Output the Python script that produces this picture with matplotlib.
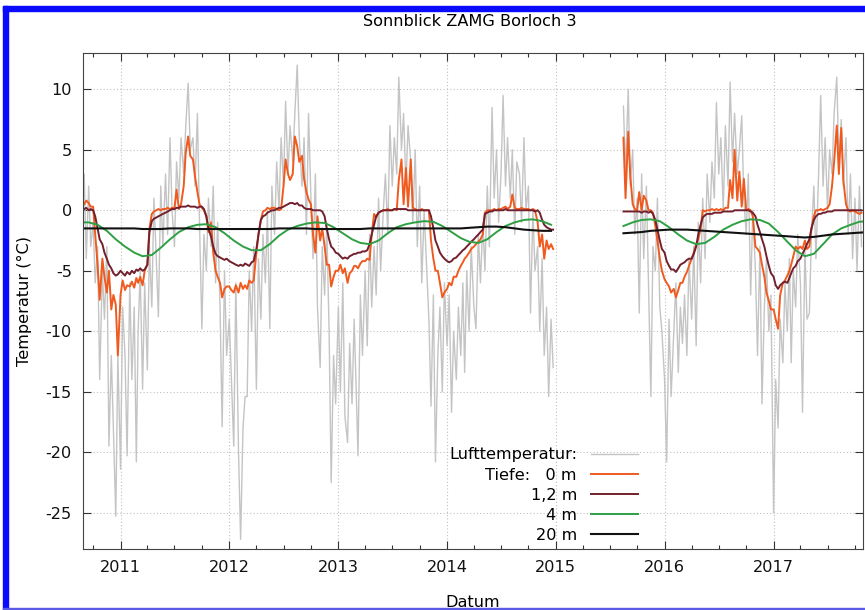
import numpy as np
import pandas as pd
import matplotlib
matplotlib.use("Agg")
import matplotlib.pyplot as plt
import matplotlib.dates as mdates
from matplotlib.patches import Rectangle

# Sonnblick borehole 3: air temperature and ground temperature at four depths.
# Weekly series use days 1, 8, 16, 23 of each month; deep sensors are monthly (16th).

SEG1_START = "2010-08-23"
SEG2_START = "2015-08-16"

# --- air temperature, weekly, 2010-08-23 .. 2014-12-23
air_1 = [
    1,
    3, -4, 2, -3,   -1, -6, -3, -14,   -5, -9, -3, -19.5,   -12, -18, -25.3, -12,
    # 2011
    -21.4, -8, -12, -20.3,   -6, -14, -8, -20.8,   -10, -5, -14.8, -6,   -13.2, -3, -8, 1,
    -4, -8.8, 2, -3,   3, -2, 6, 0,   -3, 4, 1, 6,   3, 7, 10.5, 5,
    6, 2, 8, -1,   -9.8, -2, -5, 1,   -3, 2, -6, -1,   -8, -17.9, -5, -12,
    # 2012
    -9, -14, -19.5, -6,   -20, -27.2, -18, -15.4,   -15.4, -5, -10, -3,   -14.8, -4, -9, -2,
    -6, 0, -9.8, 2,   -2, 4, 0, 6,   2, 9, 3, 7,   4, 8, 12, 6,
    2, 6, -2, 8,   1, -4, 3, -8,   -13, -3, -7, -1,   -10, -22.5, -12, -16,
    # 2013
    -8, -15, -6, -17,   -19.2, -11, -16, -9,   -14, -20.3, -7, -12,   -5, -11.2, -2, -8,
    -3, -7, 1, -5,   0, 3, -2, 7,   2, 6, 3, 11,   5, 8, 2, 7,
    4, -1, 5, -3,   2, -6, 0, -4,   -9, -16.2, -7, -20.8,   -12, -8, -15, -6,
    # 2014
    -11.2, -7, -16.7, -10,   -14, -8, -12, -6,   -13.4, -5, -10, -3,   -8, -9.8, -2, -6,
    -1, -5, 2, -3,   8.5, 1, 5, -1,   3, 9.5, 2, 6,   1, 5, -2, 4,
    3, -1, 6, 0,   2, -8.5, 0, -5,   -3, -10, -4, -12,   -8, -15.4, -9, -13,
]

# --- air temperature, weekly, 2015-08-16 .. 2017-10-23
air_2 = [
    8.6, 3,
    10, 2, 5, -2,   1, -8.5, 3, -4,   2, -6, -15.4, -3,   -5, 1, -8, -10,
    # 2016
    -14, -20.8, -9, -15.4,   -10, -6, -13.4, -8,   -11, -7, -12, -4,   -9, -3, -11.2, -1,
    -6, 1, -4, 3,   -1, 4, 1, 8.9,   3, 6, 0, 7,   2, 10.6, 4, 8,
    3, 5, 7.8, 1,   -2, 3, -7, 0,   -5, -12, -3, -16,   -8, -4, -10, -7,
    # 2017
    -25, -14, -18, -9,   -12.6, -6, -10, -4,   -12.6, -5, -8, -2,   -6, -16.7, -3, -9,
    -8.5, -2, 2, -4,   3, 9.5, 2, 6,   0, 5, 3, 8,   11, 4, 7.5, 2,
    6, -2, 3, -4,   1, -5, 2, -3,
]

# --- depth 0 m, weekly
depth0_1 = [
    0.4,
    0.5, 0.8, 0.6, 0.3,   0.3, -2.0, -4.5, -7.4,   -4.0, -5.5, -6.8, -5.0,   -8.2, -7.0, -7.8, -12.0,
    # 2011
    -7.0, -5.8, -6.6, -6.2,   -6.3, -5.9, -6.4, -5.6,   -6.0, -5.5, -6.2, -5.0,   -4.5, -1.5, -0.3, -0.1,
    0.0, 0.1, 0.0, 0.1,   0.1, 0.2, 0.1, 0.2,   0.2, 1.7, 0.1, 0.5,   2.0, 4.8, 6.1, 4.5,
    4.2, 2.8, 1.5, 0.5,   0.2, 0.0, -0.5, -1.8,   -1.0, -3.5, -5.0, -5.5,   -6.0, -7.2, -6.5, -6.3,
    # 2012
    -6.3, -6.6, -6.8, -6.2,   -6.8, -6.0, -6.5, -6.2,   -6.5, -5.8, -6.0, -5.8,   -3.5, -2.0, -0.8, -0.1,
    0.0, 0.2, 0.1, 0.2,   0.2, 0.1, 0.0, 0.1,   2.0, 4.2, 3.0, 2.5,   3.0, 6.1, 5.3, 4.0,
    4.5, 2.6, 1.5, 0.9,   0.5, -2.0, -3.5, -0.5,   -2.5, -1.5, -3.0, -4.5,   -4.5, -6.3, -5.5, -5.0,
    # 2013
    -5.0, -4.5, -5.2, -4.8,   -6.0, -5.2, -5.0, -4.6,   -4.6, -4.8, -4.4, -4.2,   -4.2, -4.0, -4.1, -2.0,
    -0.3, -0.6, -0.2, -0.1,   0.0, 0.0, 0.1, 0.0,   0.0, 0.1, 0.0, 2.5,   4.2, 0.5, 3.5, 0.3,
    4.2, 0.2, 0.1, 0.0,   0.0, 0.1, 0.0, 0.0,   0.0, -2.5, -4.0, -5.0,   -5.0, -6.0, -7.2, -6.8,
    # 2014
    -6.5, -6.0, -6.2, -5.5,   -5.5, -5.0, -4.6, -4.3,   -4.0, -3.8, -3.5, -3.2,   -3.0, -2.8, -2.6, -2.4,
    -2.0, -0.2, 0.0, 0.0,   0.0, 0.1, 0.0, 0.1,   0.1, 0.2, 0.3, 0.1,   0.3, 1.3, 0.2, 0.1,
    0.1, 0.2, 0.1, 0.1,   0.1, 0.0, 0.1, 0.0,   -1.0, -3.0, -2.0, -4.0,   -2.5, -3.2, -2.8, -3.2,
]

depth0_2 = [
    6.0, 1.0,
    6.5, 2.8, 0.5, 0.1,   0.0, 1.5, 0.0, 1.2,   0.8, 0.0, 0.0, -0.2,   -1.3, -2.5, -4.0, -5.0,
    # 2016
    -5.7, -6.0, -6.3, -6.8,   -6.5, -7.2, -6.6, -6.0,   -6.0, -5.5, -5.1, -4.6,   -4.0, -3.5, -2.8, -2.4,
    -1.5, 0.0, -0.1, 0.0,   0.0, 0.1, 0.0, 0.1,   0.0, 0.1, 0.0, 0.2,   0.2, 2.5, 1.0, 5.0,
    0.8, 3.2, 0.3, 2.6,   0.0, 0.1, 0.0, -0.5,   -3.0, -3.2, -3.5, -4.5,   -5.5, -6.8, -7.5, -8.2,
    # 2017
    -8.2, -9.0, -9.8, -7.0,   -6.0, -5.8, -5.4, -5.0,   -4.5, -3.8, -3.0, -3.2,   -3.0, -3.2, -2.5, -3.2,
    -3.0, -1.5, -0.5, 0.0,   0.0, 0.1, 0.0, 0.1,   0.2, 0.5, 2.0, 4.0,   7.0, 3.0, 6.8, 2.5,
    0.5, 0.0, -0.1, 0.0,   -0.1, -0.2, -0.3, -0.2,
]

# --- depth 1,2 m, weekly
depth1_1 = [
    0.1,
    0.1, 0.2, 0.0, 0.1,   0.0, -0.5, -1.5, -2.4,   -2.8, -3.5, -4.0, -4.5,   -4.8, -5.2, -5.4, -5.3,
    # 2011
    -5.0, -5.2, -5.4, -5.1,   -5.3, -5.0, -5.2, -4.9,   -5.0, -4.8, -5.0, -4.9,   -4.5, -1.8, -0.9, -0.7,
    -0.6, -0.5, -0.4, -0.3,   -0.2, -0.1, 0.0, 0.1,   0.1, 0.2, 0.2, 0.3,   0.3, 0.3, 0.4, 0.3,
    0.3, 0.3, 0.2, 0.3,   0.3, 0.1, -0.5, -1.5,   -2.2, -3.0, -3.6, -3.8,   -3.9, -4.0, -4.1, -4.0,
    # 2012
    -4.2, -4.3, -4.4, -4.5,   -4.6, -4.5, -4.6, -4.4,   -4.5, -4.6, -4.3, -4.2,   -3.2, -2.0, -0.8, -0.5,
    -0.4, -0.2, -0.1, 0.0,   0.0, 0.1, 0.2, 0.2,   0.3, 0.4, 0.5, 0.6,   0.6, 0.5, 0.6, 0.4,
    0.4, 0.2, 0.1, 0.1,   0.1, 0.0, 0.0, 0.0,   0.0, -0.1, -0.5, -1.5,   -2.4, -3.0, -3.2, -3.5,
    # 2013
    -3.6, -3.8, -4.0, -3.9,   -4.0, -3.8, -3.7, -3.6,   -3.6, -3.5, -3.5, -3.4,   -3.4, -3.3, -2.8, -2.0,
    -1.2, -0.5, -0.2, -0.1,   0.0, 0.0, 0.0, 0.0,   0.0, 0.1, 0.1, 0.1,   0.1, 0.1, 0.1, 0.0,
    0.0, 0.0, 0.0, 0.0,   0.0, 0.0, 0.0, 0.0,   0.0, -0.5, -1.5, -2.5,   -3.0, -3.5, -3.8, -4.0,
    # 2014
    -4.2, -4.3, -4.2, -4.0,   -3.9, -3.7, -3.5, -3.3,   -3.2, -3.0, -2.8, -2.6,   -2.4, -2.2, -2.0, -1.8,
    -1.6, -0.3, -0.2, -0.1,   -0.1, 0.0, 0.0, 0.0,   0.0, 0.0, 0.1, 0.0,   0.0, 0.0, 0.0, 0.0,
    0.0, 0.0, 0.0, 0.0,   0.0, 0.0, 0.0, -0.1,   0.0, -0.2, -0.8, -1.2,   -1.4, -1.5, -1.6, -1.6,
]

depth1_2 = [
    -0.1, -0.1,
    -0.1, -0.1, -0.1, -0.1,   -0.1, -0.1, -0.2, -0.1,   -0.1, -0.2, -0.1, -0.3,   -0.8, -1.6, -2.5, -3.2,
    # 2016
    -3.5, -4.2, -4.6, -4.9,   -4.9, -5.1, -4.8, -4.5,   -4.4, -4.3, -4.1, -4.0,   -4.0, -3.6, -3.0, -2.0,
    -1.2, -0.6, -0.4, -0.3,   -0.3, -0.3, -0.2, -0.2,   -0.2, -0.2, -0.1, -0.1,   -0.1, -0.1, -0.1, 0.0,
    0.0, 0.0, 0.0, 0.0,   0.0, 0.0, -0.1, -0.2,   -0.5, -1.2, -1.8, -2.4,   -3.0, -3.8, -4.6, -5.2,
    # 2017
    -5.5, -6.2, -6.5, -6.2,   -6.0, -5.9, -6.0, -5.6,   -5.2, -4.8, -4.6, -4.2,   -4.0, -3.6, -3.2, -2.8,
    -2.4, -1.5, -0.8, -0.5,   -0.3, -0.3, -0.2, -0.2,   -0.1, -0.1, -0.1, 0.0,   0.0, 0.0, 0.0, 0.0,
    0.0, 0.0, 0.0, 0.0,   0.0, 0.0, 0.0, 0.0,
]

# --- depth 4 m, monthly (Aug 2010 .. Dec 2014, Aug 2015 .. Nov 2017)
depth4_1 = [
    -1.0, -1.0, -1.2, -1.7, -2.4,
    -3.0, -3.5, -3.8, -3.7, -3.1, -2.4, -1.8, -1.4, -1.2, -1.15, -1.4, -1.9,
    -2.5, -3.0, -3.3, -3.3, -2.8, -2.1, -1.6, -1.3, -1.1, -1.0, -1.05, -1.4,
    -1.9, -2.4, -2.7, -2.8, -2.5, -1.9, -1.4, -1.15, -1.0, -0.9, -0.95, -1.3,
    -1.8, -2.3, -2.6, -2.7, -2.4, -1.8, -1.3, -1.0, -0.8, -0.75, -0.9, -1.2,
]
depth4_2 = [
    -1.3, -1.0, -0.8, -0.75, -0.9,
    -1.4, -2.0, -2.5, -2.8, -2.7, -2.2, -1.6, -1.2, -0.9, -0.75, -0.8, -1.1,
    -1.8, -2.6, -3.3, -3.8, -3.6, -2.8, -2.0, -1.5, -1.2, -0.95, -0.9,
]

# --- depth 20 m, monthly
depth20_1 = [
    -1.5, -1.5, -1.5, -1.5, -1.5,
    -1.5, -1.5, -1.55, -1.55, -1.55, -1.5, -1.5, -1.5, -1.55, -1.55, -1.55, -1.55,
    -1.55, -1.55, -1.55, -1.55, -1.55, -1.5, -1.5, -1.5, -1.5, -1.55, -1.55, -1.55,
    -1.55, -1.55, -1.55, -1.5, -1.5, -1.5, -1.5, -1.5, -1.5, -1.5, -1.5, -1.5,
    -1.5, -1.5, -1.45, -1.4, -1.35, -1.35, -1.4, -1.5, -1.6, -1.65, -1.7, -1.7,
]
depth20_2 = [
    -1.9, -1.85, -1.8, -1.7, -1.65,
    -1.6, -1.6, -1.6, -1.65, -1.7, -1.75, -1.8, -1.85, -1.9, -1.95, -2.0, -2.05,
    -2.1, -2.15, -2.2, -2.25, -2.2, -2.1, -2.0, -1.95, -1.9, -1.85, -1.8,
]

labels = ["Lufttemperatur:", "Tiefe:   0 m", "1,2 m", "4 m", "20 m"]
colors = ["#c4c4c4", "#f05a1e", "#72202e", "#2ea043", "#111111"]

WEEK_DAYS = [0, 7, 15, 22]
FS = 11.6


def weekly_dates(first_month, last_month, start):
    months = pd.date_range(first_month, last_month, freq="MS")
    dates = pd.DatetimeIndex([m + pd.Timedelta(days=d) for m in months for d in WEEK_DAYS])
    return dates[dates >= pd.Timestamp(start)]


def monthly_dates(first_month, last_month):
    return pd.date_range(first_month, last_month, freq="MS") + pd.Timedelta(days=15)


w1 = weekly_dates("2010-08-01", "2014-12-01", SEG1_START)
w2 = weekly_dates("2015-08-01", "2017-10-01", SEG2_START)
m1 = monthly_dates("2010-08-01", "2014-12-01")
m2 = monthly_dates("2015-08-01", "2017-11-01")

plt.rcParams["font.family"] = "DejaVu Sans"
plt.rcParams["axes.unicode_minus"] = False

fig = plt.figure(figsize=(8.65, 6.10), dpi=100)
ax = fig.add_axes([83 / 865, 61 / 610, 779.7 / 865, 496 / 610])

series = [
    (air_1, air_2, w1, w2, 1.0),
    (depth0_1, depth0_2, w1, w2, 1.4),
    (depth1_1, depth1_2, w1, w2, 1.4),
    (depth4_1, depth4_2, m1, m2, 1.4),
    (depth20_1, depth20_2, m1, m2, 1.5),
]
handles = []
for (v1, v2, d1, d2, lw), col, lab in zip(series, colors, labels):
    h, = ax.plot(d1, v1, color=col, lw=lw, label=lab)
    ax.plot(d2, v2, color=col, lw=lw)
    handles.append(h)

ax.set_xlim(pd.Timestamp("2010-08-28"), pd.Timestamp("2017-10-27"))
ax.set_ylim(-28, 13)
ax.set_yticks(np.arange(-25, 11, 5))

ax.xaxis.set_major_locator(mdates.YearLocator())
ax.xaxis.set_major_formatter(mdates.DateFormatter("%Y"))
ax.xaxis.set_minor_locator(mdates.MonthLocator(bymonth=[4, 7, 10]))

ax.grid(True, which="major", linestyle=(0, (1, 2)), color="#c0c0c0", lw=0.8)
ax.tick_params(which="both", direction="in", top=True, right=True, width=0.8,
               labelsize=FS, colors="#333333", labelcolor="#111111")
ax.tick_params(which="major", length=6, pad=8)
ax.tick_params(which="minor", length=3)
for sp in ax.spines.values():
    sp.set_color("#444444")
    sp.set_linewidth(0.8)

ax.set_xlabel("Datum", fontsize=FS, labelpad=14)
ax.set_ylabel("Temperatur (°C)", fontsize=FS, labelpad=10)
fig.text(470 / 865, 1 - 22 / 610, "Sonnblick ZAMG Borloch 3", ha="center", va="center", fontsize=FS)

ax.legend(handles=handles, loc="lower right", bbox_to_anchor=(0.712, 0.012),
          markerfirst=False, frameon=False, fontsize=FS, handlelength=2.9,
          handletextpad=0.9, labelspacing=0.32, borderpad=0, borderaxespad=0)

# blue frame around the figure
blue = "#0a0aff"
fig.add_artist(Rectangle((3 / 865, 0), 5 / 865, 604 / 610, transform=fig.transFigure, color=blue))
fig.add_artist(Rectangle((3 / 865, 599 / 610), 862 / 865, 5 / 610, transform=fig.transFigure, color=blue))
fig.add_artist(Rectangle((3 / 865, 0), 862 / 865, 2 / 610, transform=fig.transFigure, color="#5a5ae6"))

fig.savefig("out.png", dpi=100)
